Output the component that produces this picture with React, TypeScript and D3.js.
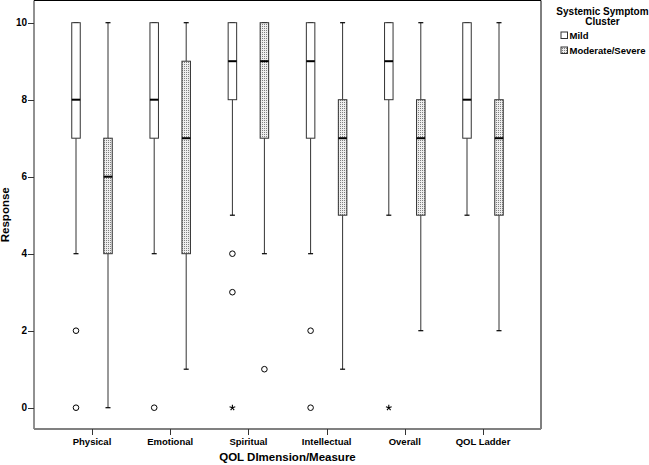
import React from "react";
import * as d3 from "d3";

const categories = ["Physical", "Emotional", "Spiritual", "Intellectual", "Overall", "QOL Ladder"];
const groups = ["Mild", "Moderate/Severe"];

const mildLow = [4, 4, 5, 4, 5, 5];
const mildQ1 = [7, 7, 8, 7, 8, 7];
const mildMedian = [8, 8, 9, 9, 9, 8];
const mildQ3 = [10, 10, 10, 10, 10, 10];
const mildHigh = [10, 10, 10, 10, 10, 10];
const mildOutliers = [[2, 0], [0], [4, 3], [2, 0], [], []];
const mildExtremes = [[], [], [0], [], [0], []];

const modLow = [0, 1, 4, 1, 2, 2];
const modQ1 = [4, 4, 7, 5, 5, 5];
const modMedian = [6, 7, 9, 7, 7, 7];
const modQ3 = [7, 9, 10, 8, 8, 8];
const modHigh = [10, 10, 10, 10, 10, 10];
const modOutliers = [[], [], [1], [], [], []];
const modExtremes = [[], [], [], [], [], []];

const yTicks = [0, 2, 4, 6, 8, 10];

const FONT = "'Liberation Sans', Arial, Helvetica, sans-serif";

function starPath(r: number) {
  const p = d3.path();
  for (let k = 0; k < 5; k++) {
    const a = -Math.PI / 2 + (k * 2 * Math.PI) / 5;
    p.moveTo(0, 0);
    p.lineTo(r * Math.cos(a), r * Math.sin(a));
  }
  return p.toString();
}

export default function App() {
  const W = 649, H = 465;
  const left = 34, right = 541, top = 0.5, bottom = 429;
  const x = d3.scalePoint<string>().domain(categories).range([92, 483]);
  const y = d3.scaleLinear().domain([0, 10]).range([407.7, 22.7]);
  const off = d3.scalePoint<string>().domain(groups).range([-16, 16]);
  const boxW = 8.5, capW = 5;
  const star = starPath(3);

  const series = [
    { g: groups[0], low: mildLow, q1: mildQ1, med: mildMedian, q3: mildQ3, high: mildHigh, out: mildOutliers, ext: mildExtremes, fill: "#fff" },
    { g: groups[1], low: modLow, q1: modQ1, med: modMedian, q3: modQ3, high: modHigh, out: modOutliers, ext: modExtremes, fill: "url(#stipple)" },
  ];

  return (
    <svg width={W} height={H} style={{ position: "absolute", left: 0, top: 0, fontFamily: FONT }}>
      <defs>
        <pattern id="stipple" width="2" height="2" patternUnits="userSpaceOnUse">
          <rect width="2" height="2" fill="#eeeeee" />
          <rect width="1" height="1" fill="#808080" />
        </pattern>
      </defs>
      <rect x={0} y={0} width={W} height={H} fill="#fff" />
      {/* frame */}
      <line x1={left} x2={right} y1={top} y2={top} stroke="#000" strokeWidth={1} />
      <line x1={left} x2={left} y1={top} y2={bottom} stroke="#222" strokeWidth={1} />
      <line x1={right} x2={right} y1={top} y2={bottom} stroke="#000" strokeWidth={1} />
      <line x1={left} x2={right} y1={bottom} y2={bottom} stroke="#808080" strokeWidth={2} />
      {/* y ticks */}
      {yTicks.map((t) => (
        <g key={t}>
          <line x1={28} x2={left} y1={Math.round(y(t)) + 0.5} y2={Math.round(y(t)) + 0.5} stroke="#333" />
          <text x={27} y={y(t) + 3.6} textAnchor="end" fontSize={10} fontWeight="bold" fill="#000">{t}</text>
        </g>
      ))}
      {/* x ticks */}
      {categories.map((c) => (
        <g key={c}>
          <line x1={Math.round(x(c)!) + 0.5} x2={Math.round(x(c)!) + 0.5} y1={bottom} y2={435} stroke="#333" />
          <text x={x(c)!} y={444.5} textAnchor="middle" fontSize={9.5} fontWeight="bold" fill="#000">{c}</text>
        </g>
      ))}
      {/* boxes */}
      {series.map((s) =>
        categories.map((c, i) => {
          const cx = x(c)! + off(s.g)!;
          const bx = cx - boxW / 2;
          return (
            <g key={s.g + c}>
              <line x1={cx} x2={cx} y1={y(s.high[i])} y2={y(s.q3[i])} stroke="#333" strokeWidth={1} />
              <line x1={cx} x2={cx} y1={y(s.q1[i])} y2={y(s.low[i])} stroke="#333" strokeWidth={1} />
              <line x1={cx - capW / 2} x2={cx + capW / 2} y1={y(s.high[i])} y2={y(s.high[i])} stroke="#000" strokeWidth={1.2} />
              <line x1={cx - capW / 2} x2={cx + capW / 2} y1={y(s.low[i])} y2={y(s.low[i])} stroke="#000" strokeWidth={1.2} />
              <rect x={bx} y={y(s.q3[i])} width={boxW} height={y(s.q1[i]) - y(s.q3[i])} fill={s.fill} stroke="#333" strokeWidth={1} />
              <line x1={bx} x2={bx + boxW} y1={y(s.med[i])} y2={y(s.med[i])} stroke="#000" strokeWidth={2} />
              {s.out[i].map((v, k) => (
                <circle key={"o" + k} cx={cx} cy={y(v)} r={2.8} fill="none" stroke="#000" strokeWidth={1} />
              ))}
              {s.ext[i].map((v, k) => (
                <path key={"e" + k} d={star} transform={`translate(${cx},${y(v)})`} fill="none" stroke="#000" strokeWidth={1.1} />
              ))}
            </g>
          );
        })
      )}
      {/* axis titles */}
      <text x={(left + right) / 2} y={461} textAnchor="middle" fontSize={11.5} fontWeight="bold" fill="#000">QOL DImension/Measure</text>
      <text transform={`translate(9,${(top + bottom) / 2}) rotate(-90)`} textAnchor="middle" fontSize={11.5} fontWeight="bold" fill="#000">Response</text>
      {/* legend */}
      <text x={602.5} y={14.5} textAnchor="middle" fontSize={10} fontWeight="bold" fill="#000">Systemic Symptom</text>
      <text x={602.5} y={25} textAnchor="middle" fontSize={10} fontWeight="bold" fill="#000">Cluster</text>
      {series.map((s, i) => (
        <g key={"lg" + s.g}>
          <rect x={561} y={32 + i * 15} width={6.5} height={6.5} fill={s.fill} stroke="#333" strokeWidth={1} />
          <text x={569.5} y={39.3 + i * 15} fontSize={9.5} fontWeight="bold" fill="#000">{s.g}</text>
        </g>
      ))}
    </svg>
  );
}
